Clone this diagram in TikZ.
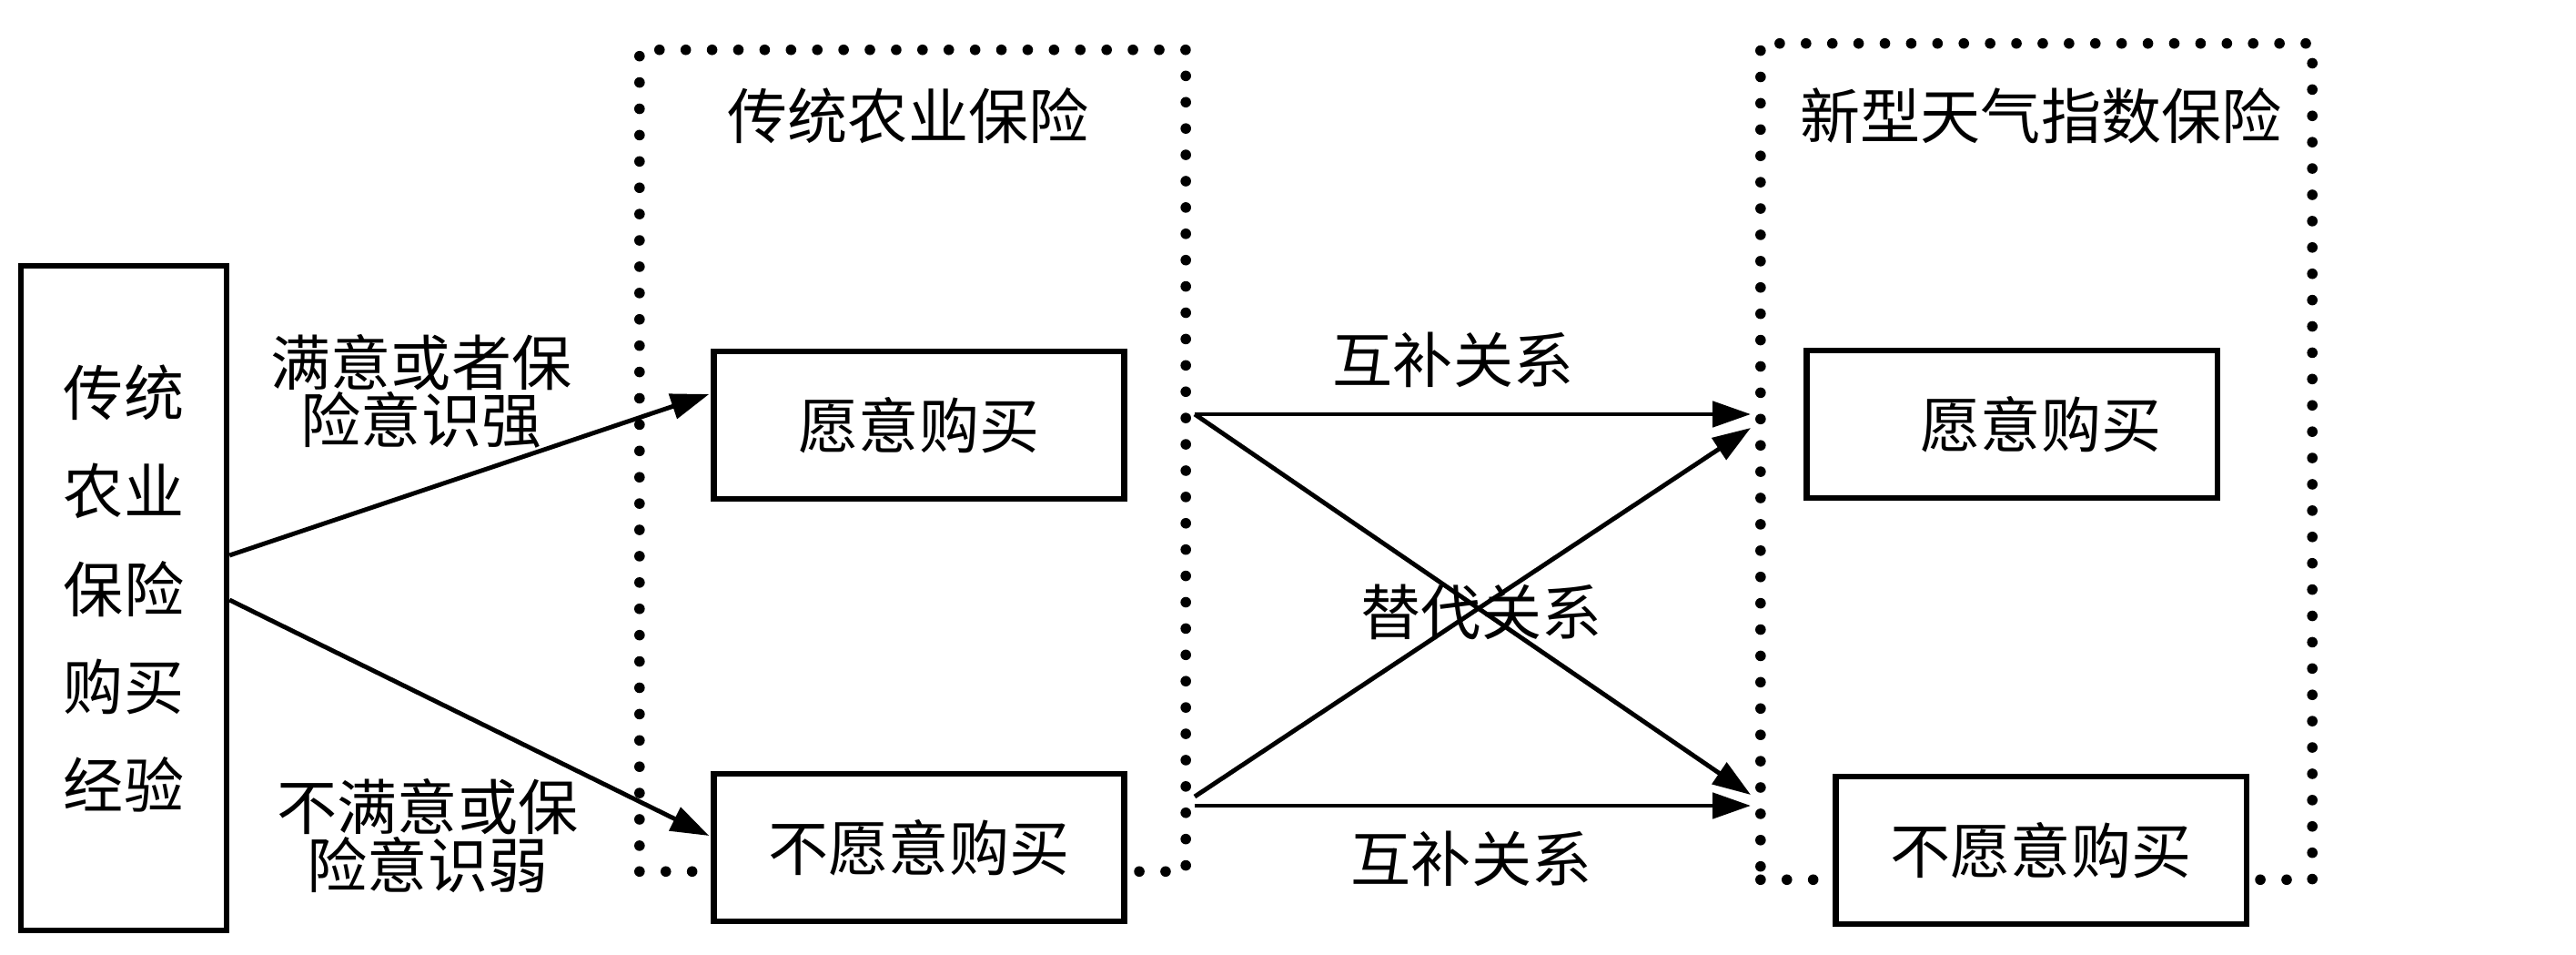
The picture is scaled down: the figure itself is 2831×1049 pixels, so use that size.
\documentclass[tikz,border=0pt]{standalone}
\usepackage{fontspec}
\setmainfont{Noto Sans CJK SC}
\usetikzlibrary{arrows.meta,positioning,calc}

\begin{document}
\begin{tikzpicture}[x=0.01cm,y=-0.01cm,
        font=\fontsize{18.8pt}{18pt}\selectfont,
        box/.style={draw,fill=white,line width=1.8pt,minimum width=4.51cm,minimum height=1.62cm,inner sep=0pt},
        frame/.style={draw,line width=3.3pt,dash pattern=on 0pt off 8.22pt,line cap=round},
        link/.style={line width=1.4pt,-{Triangle[length=4.2mm,width=2.8mm]}}]
            \useasboundingbox (0,0) rectangle (2831,1049);
            \node[frame,minimum width=6cm,minimum height=9.02cm]
            (trad) at (1003,506) {};
            \node[frame,minimum width=6.06cm,minimum height=9.18cm]
            (index) at (2238,507) {};
            \node (tradtitle) at (998,127) {传统农业保险};
            \node (indextitle) at (2243,127) {新型天气指数保险};
            \node[draw,line width=1.8pt,minimum width=2.26cm,minimum height=7.3cm,align=center,
            font=\fontsize{18.8pt}{30.6pt}\selectfont]
            (exp) at (136,657) {传统\\农业\\保险\\购买\\经验\\[-0.82cm]};
            \node[box] (wantL) at (1010,467) {愿意购买};
            \node[box] (refuseL) at (1010,931) {不愿意购买};
            \node[box] (wantR) at (2211,466) {\hspace{0.64cm}愿意购买};
            \node[box] (refuseR) at (2243,934) {不愿意购买};
            \node[align=center] (good) at (463,430) {满意或者保\\险意识强};
            \node[align=center] (bad) at (470,918) {不满意或保\\险意识弱};
            \draw[link] ($(exp.east)+(0,-47)$) -- ($(wantL.west)+(-2,-34)$);
            \draw[link] ($(exp.east)+(0,2)$) -- ($(refuseL.west)+(-2,-13)$);
            \coordinate (t1) at ($(trad.east)+(4,-51)$);
            \coordinate (t2) at ($(trad.east)+(4,369)$);
            \coordinate (t3) at ($(trad.east)+(4,379)$);
            \coordinate (i1) at ($(index.west)+(-5,-52)$);
            \coordinate (i2) at ($(index.west)+(-5,-37)$);
            \coordinate (i3) at ($(index.west)+(-5,366)$);
            \coordinate (i4) at ($(index.west)+(-5,378)$);
            \draw[link] (t1) -- (i1);
            \draw[link] (t1) -- (i3);
            \draw[link] (t2) -- (i2);
            \draw[link] (t3) -- (i4);
            \node (compT) at (1597,395) {互补关系};
            \node (subst) at (1628,672) {替代关系};
            \node (compB) at (1617,943) {互补关系};
        \end{tikzpicture}
\end{document}
